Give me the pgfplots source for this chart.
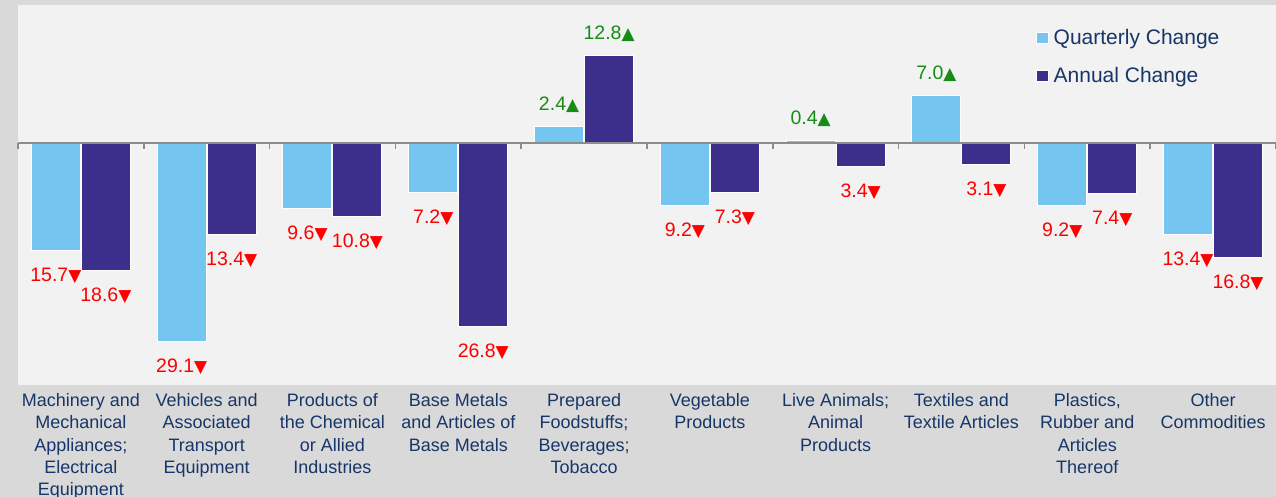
\documentclass[border=0pt]{standalone}
\usepackage{pgfplots}
\pgfplotsset{compat=1.18}
\usepackage{pgfplotstable}
\usepackage{fontspec}
\setmainfont{Liberation Sans}
\newfontfamily\symfont{DejaVu Sans}
\definecolor{qblue}{RGB}{116,198,240}
\definecolor{apurple}{RGB}{60,47,140}
\definecolor{bgout}{RGB}{217,217,217}
\definecolor{bgplot}{RGB}{242,242,242}
\definecolor{navy}{RGB}{23,54,104}
\definecolor{upgreen}{RGB}{22,140,22}
\definecolor{zgray}{RGB}{140,140,140}

\pgfplotstableread{
x y lab
0 -15.7 15.7
1 -29.1 29.1
2 -9.6 9.6
3 -7.2 7.2
5 -9.2 9.2
8 -9.2 9.2
9 -13.4 13.4
}\qneg
\pgfplotstableread{
x y lab
4 2.4 2.4
6 0.4 0.4
7 7.0 7.0
}\qpos
\pgfplotstableread{
x y lab
0 -18.6 18.6
1 -13.4 13.4
2 -10.8 10.8
3 -26.8 26.8
5 -7.3 7.3
6 -3.4 3.4
7 -3.1 3.1
8 -7.4 7.4
9 -16.8 16.8
}\aneg
\pgfplotstableread{
x y lab
4 12.8 12.8
}\apos

\pgfplotsset{
  neglab/.style={point meta=explicit symbolic,
    nodes near coords={\pgfplotspointmeta{\symfont\fontsize{17}{17}\selectfont ▼}},
    every node near coord/.style={anchor=base, xshift=#1, yshift=-31pt, text=red, font=\fontsize{19.5}{20}\selectfont, inner sep=0pt}},
  poslab/.style={point meta=explicit symbolic,
    nodes near coords={\pgfplotspointmeta{\symfont\fontsize{17}{17}\selectfont ▲}},
    every node near coord/.style={anchor=base, xshift=#1, yshift=16pt, text=upgreen, font=\fontsize{19.5}{20}\selectfont, inner sep=0pt}},
  sqlegend/.style={legend image code/.code={\draw[##1,draw=white,line width=0.8pt] (0pt,-6pt) rectangle (12pt,5pt);}},
}

\begin{document}
\begin{tikzpicture}
\useasboundingbox (0,0) rectangle (1276pt,497pt);
\fill[bgout] (0,0) rectangle (1276pt,497pt);
\begin{axis}[
  at={(18pt,112pt)}, anchor=south west,
  scale only axis, width=1258pt, height=380pt,
  xmin=-0.5, xmax=9.5, ymin=-35.4, ymax=20.2,
  ybar, bar width=49pt,
  axis line style={draw=none},
  axis background/.style={fill=bgplot},
  xtick={0,...,9}, major tick length=0pt, ytick=\empty,
  xticklabels={{Machinery and\\Mechanical\\Appliances;\\Electrical\\Equipment},
    {Vehicles and\\Associated\\Transport\\Equipment},
    {Products of\\the Chemical\\or Allied\\Industries},
    {Base Metals\\and Articles of\\Base Metals},
    {Prepared\\Foodstuffs;\\Beverages;\\Tobacco},
    {Vegetable\\Products},
    {Live Animals;\\Animal\\Products},
    {Textiles and\\Textile Articles},
    {Plastics,\\Rubber and\\Articles\\Thereof},
    {Other\\Commodities}},
  xticklabel style={align=center, font=\fontsize{18}{22.4}\selectfont, text=navy, inner sep=0pt, yshift=-8pt, anchor=north},
  legend style={at={(rel axis cs:0.809,0.937)}, anchor=north west, draw=none, fill=none,
    inner sep=0pt, row sep=21pt, column sep=5pt, font=\fontsize{21}{21}\selectfont, text=navy,
    nodes={inner sep=0pt}},
  legend cell align=left,
  clip=false,
]
\addplot[fill=qblue, draw=white, line width=1pt, bar shift=-25pt, neglab=-25pt, sqlegend] table[x=x,y=y,meta=lab] {\qneg};
\addlegendentry{Quarterly Change}
\addplot[forget plot, fill=qblue, draw=white, line width=1pt, bar shift=-25pt, poslab=-25pt] table[x=x,y=y,meta=lab] {\qpos};
\addplot[fill=apurple, draw=white, line width=1pt, bar shift=25pt, neglab=25pt, sqlegend] table[x=x,y=y,meta=lab] {\aneg};
\addlegendentry{Annual Change}
\addplot[forget plot, fill=apurple, draw=white, line width=1pt, bar shift=25pt, poslab=25pt] table[x=x,y=y,meta=lab] {\apos};
\draw[zgray, line width=2pt] (axis cs:-0.5,0) -- (axis cs:9.5,0);
\pgfplotsinvokeforeach{-0.5,0.5,1.5,2.5,3.5,4.5,5.5,6.5,7.5,8.5,9.5}{
  \draw[zgray, line width=1.5pt] (axis cs:#1,0) -- ++(0pt,-6pt);
}
\end{axis}
\end{tikzpicture}
\end{document}
